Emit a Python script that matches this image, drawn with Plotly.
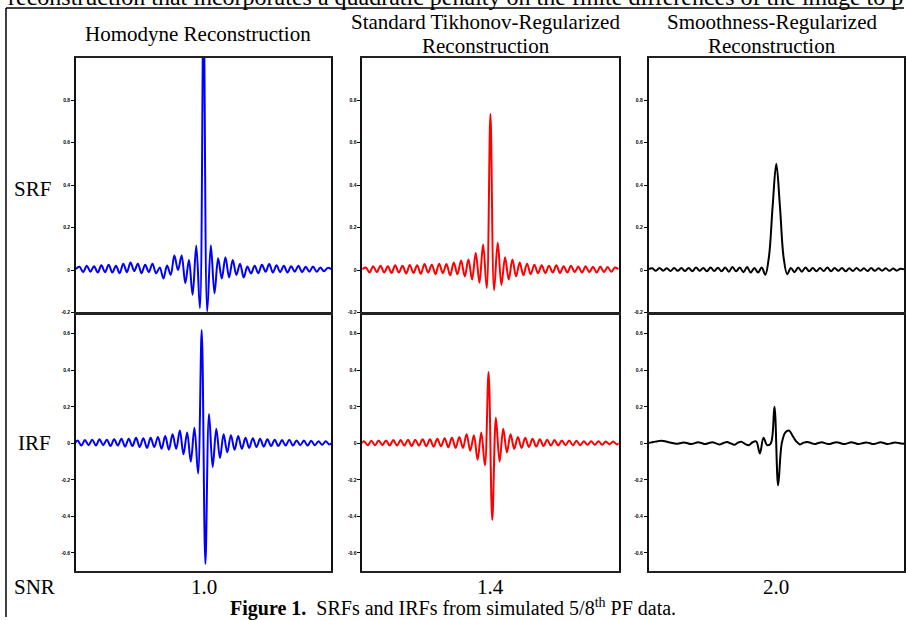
import plotly.graph_objects as go

# sample index along each profile (panel centre = 0)
K = list(range(-35, 36))                 # SRF samples
KH = [k + 0.5 for k in range(-36, 36)]   # IRF samples

srf_homodyne = [0.005, 0.015, -0.010, 0.020, -0.008, 0.018, -0.012, 0.022, -0.010, 0.025,
                -0.012, 0.020, -0.015, 0.030, -0.010, 0.035, -0.005, 0.030, -0.015, 0.025,
                -0.010, 0.030, -0.016, 0.012, -0.040, 0.021, -0.023, 0.068, 0.000, 0.068,
                -0.062, 0.047, -0.117, 0.115, -0.180,
                1.250,
                -0.195, 0.117, -0.110, 0.055, -0.040,
                0.060, -0.035, 0.047, -0.023, 0.030, -0.035, 0.016, -0.016, 0.020, -0.015,
                0.025, -0.008, 0.028, -0.012, 0.022, -0.010, 0.020, -0.012, 0.018, -0.008,
                0.020, -0.010, 0.015, -0.008, 0.016, -0.008, 0.012, -0.006, 0.010, 0.004]

srf_tikhonov = [0.004, 0.012, -0.012, 0.018, -0.010, 0.020, -0.012, 0.018, -0.014, 0.022,
                -0.012, 0.020, -0.016, 0.024, -0.014, 0.022, -0.018, 0.028, -0.012, 0.025,
                -0.020, 0.030, -0.015, 0.028, -0.025, 0.035, -0.020, 0.045, -0.030, 0.050,
                -0.045, 0.080, -0.060, 0.120, -0.085,
                0.735,
                -0.095, 0.130, -0.070, 0.060, -0.045,
                0.050, -0.030, 0.035, -0.025, 0.030, -0.020, 0.025, -0.015, 0.022, -0.015,
                0.020, -0.012, 0.022, -0.014, 0.018, -0.012, 0.020, -0.010, 0.016, -0.012,
                0.018, -0.010, 0.015, -0.012, 0.016, -0.010, 0.014, -0.008, 0.012, 0.004]

srf_smooth = [0.004, 0.008, -0.004, 0.010, -0.003, 0.008, -0.005, 0.010, -0.004, 0.009,
              -0.005, 0.010, -0.006, 0.012, -0.004, 0.010, -0.006, 0.012, -0.005, 0.011,
              -0.006, 0.012, -0.008, 0.014, -0.006, 0.012, -0.010, 0.014, -0.012, 0.010,
              -0.012, 0.012, -0.022, 0.064, 0.300,
              0.500,
              0.300, 0.060, -0.020, 0.010, -0.010,
              0.012, -0.008, 0.012, -0.006, 0.010, -0.006, 0.010, -0.005, 0.012, -0.006,
              0.010, -0.004, 0.010, -0.006, 0.008, -0.005, 0.010, -0.004, 0.008, -0.005,
              0.009, -0.004, 0.008, -0.003, 0.008, -0.004, 0.007, -0.003, 0.006, 0.003]

irf_homodyne = [-0.010, 0.015, -0.012, 0.018, -0.010, 0.020, -0.012, 0.022, -0.010, 0.020,
                -0.015, 0.022, -0.012, 0.025, -0.018, 0.025, -0.015, 0.030, -0.020, 0.028,
                -0.025, 0.030, -0.020, 0.035, -0.030, 0.040, -0.035, 0.050, -0.030, 0.070,
                -0.060, 0.060, -0.100, 0.085, -0.165, 0.620,
                -0.660, 0.160, -0.130, 0.080, -0.080, 0.050, -0.050, 0.045, -0.035, 0.040,
                -0.030, 0.030, -0.025, 0.028, -0.020, 0.025, -0.018, 0.022, -0.015, 0.020,
                -0.015, 0.018, -0.012, 0.020, -0.012, 0.016, -0.010, 0.015, -0.012, 0.014,
                -0.010, 0.012, -0.008, 0.012, -0.006, 0.010]

irf_tikhonov = [-0.008, 0.012, -0.010, 0.014, -0.010, 0.016, -0.010, 0.016, -0.012, 0.018,
                -0.012, 0.018, -0.012, 0.020, -0.014, 0.020, -0.012, 0.022, -0.016, 0.022,
                -0.018, 0.025, -0.016, 0.028, -0.022, 0.030, -0.025, 0.035, -0.025, 0.050,
                -0.040, 0.045, -0.090, 0.060, -0.120, 0.390,
                -0.420, 0.140, -0.100, 0.080, -0.050, 0.050, -0.030, 0.035, -0.025, 0.030,
                -0.020, 0.025, -0.018, 0.022, -0.015, 0.020, -0.012, 0.018, -0.012, 0.016,
                -0.010, 0.015, -0.010, 0.014, -0.010, 0.012, -0.008, 0.012, -0.008, 0.012,
                -0.008, 0.010, -0.006, 0.010, -0.006, 0.008]

irf_smooth = [0.000, 0.004, 0.008, 0.012, 0.014, 0.012, 0.006, 0.002, -0.002, 0.000,
              0.004, 0.002, -0.004, 0.000, 0.006, 0.002, -0.004, 0.002, 0.006, 0.000,
              -0.006, 0.002, 0.008, 0.000, -0.008, 0.004, 0.008, -0.004, -0.010, 0.006,
              0.010, -0.055, 0.030, -0.010, 0.000, 0.200,
              -0.230, 0.000, 0.060, 0.070, 0.040, 0.010, -0.006, 0.004, 0.008, 0.002,
              -0.004, 0.002, 0.006, 0.000, -0.004, 0.002, 0.006, 0.002, -0.004, 0.000,
              0.006, 0.002, -0.004, 0.000, 0.005, 0.002, -0.004, 0.000, 0.006, 0.002,
              -0.004, 0.000, 0.004, 0.002, -0.002, 0.002]

col_titles = [["Homodyne Reconstruction"],
              ["Standard Tikhonov-Regularized", "Reconstruction"],
              ["Smoothness-Regularized", "Reconstruction"]]
row_labels = ["SRF", "IRF"]
snr_values = ["1.0", "1.4", "2.0"]
colors = ["#0000FF", "#FF0000", "#000000"]

srf_ticks = [-0.2, 0, 0.2, 0.4, 0.6, 0.8]
srf_ticktext = ["-0.2", "0", "0.2", "0.4", "0.6", "0.8"]
irf_ticks = [-0.6, -0.4, -0.2, 0, 0.2, 0.4, 0.6]
irf_ticktext = ["-0.6", "-0.4", "-0.2", "0", "0.2", "0.4", "0.6"]

W, H = 906, 620
def px(x): return x / W
def py(y): return 1 - y / H

col_dom = [(76, 332), (363, 620), (650, 906)]
row_dom = [(58, 314), (317, 574)]

fig = go.Figure()
series = [[srf_homodyne, srf_tikhonov, srf_smooth], [irf_homodyne, irf_tikhonov, irf_smooth]]
layout_axes = {}
for r in range(2):
    for c in range(3):
        i = r * 3 + c + 1
        xs = K if r == 0 else KH
        fig.add_trace(go.Scatter(x=xs, y=series[r][c], mode="lines",
                                 line=dict(color=colors[c], width=2, shape="spline"),
                                 xaxis="x" if i == 1 else f"x{i}",
                                 yaxis="y" if i == 1 else f"y{i}",
                                 showlegend=False, hoverinfo="skip"))
        xname = "xaxis" if i == 1 else f"xaxis{i}"
        yname = "yaxis" if i == 1 else f"yaxis{i}"
        x0, x1 = col_dom[c]
        y0, y1 = row_dom[r]
        layout_axes[xname] = dict(domain=[px(x0), min(1.0, px(x1))], range=[-35, 35],
                                  showgrid=False, zeroline=False, showticklabels=False,
                                  ticks="", showline=True, mirror=True, linecolor="#222",
                                  linewidth=1.5, anchor="y" if i == 1 else f"y{i}")
        layout_axes[yname] = dict(domain=[py(y1), py(y0)],
                                  range=[-0.2, 1.0] if r == 0 else [-0.7, 0.7],
                                  tickvals=srf_ticks if r == 0 else irf_ticks,
                                  ticktext=srf_ticktext if r == 0 else irf_ticktext,
                                  ticks="outside", ticklen=3, tickwidth=1, tickcolor="#000",
                                  tickfont=dict(family="Liberation Sans", size=5, color="#000", weight="bold"),
                                  showgrid=False, zeroline=False, showline=True, mirror=True,
                                  linecolor="#111", linewidth=1.5,
                                  anchor="x" if i == 1 else f"x{i}")
fig.update_layout(**layout_axes)

serif = "Liberation Serif, Times New Roman, serif"
ann = []
def text(x, y, s, size=21, xanchor="center", yanchor="middle"):
    ann.append(dict(x=px(x), y=py(y), xref="paper", yref="paper", text=s, showarrow=False,
                    xanchor=xanchor, yanchor=yanchor,
                    font=dict(family=serif, size=size, color="#000")))

# cut-off line of running text at the top edge
text(6, -3, "reconstruction that incorporates a quadratic penalty on the finite differences of the image to p",
     size=24, xanchor="left")
# column titles
text(198, 34, col_titles[0][0])
text(487, 22, col_titles[1][0])
text(487, 46, col_titles[1][1])
text(774, 22, col_titles[2][0])
text(774, 46, col_titles[2][1])
# row labels
text(12, 190, row_labels[0], xanchor="left")
text(16, 445, row_labels[1], xanchor="left")
text(12, 590, "SNR", xanchor="left")
for c, v in enumerate(snr_values):
    text((col_dom[c][0] + col_dom[c][1]) / 2, 590, v)
text(454, 610, "<b>Figure 1.</b>  SRFs and IRFs from simulated 5/8<sup>th</sup> PF data.", size=20)

shapes = [
    dict(type="line", xref="paper", yref="paper", x0=px(6), x1=1.0, y0=py(8), y1=py(8),
         line=dict(color="#000", width=1.5)),
    dict(type="line", xref="paper", yref="paper", x0=px(6), x1=px(6), y0=py(8), y1=0,
         line=dict(color="#000", width=1.5)),
]

fig.update_layout(width=W, height=H, margin=dict(l=0, r=0, t=0, b=0),
                  paper_bgcolor="white", plot_bgcolor="white",
                  annotations=ann, shapes=shapes, showlegend=False)
fig.write_html("out.html", config={"displayModeBar": False},
               post_script="document.body.style.margin='0';document.body.style.overflow='hidden';")
